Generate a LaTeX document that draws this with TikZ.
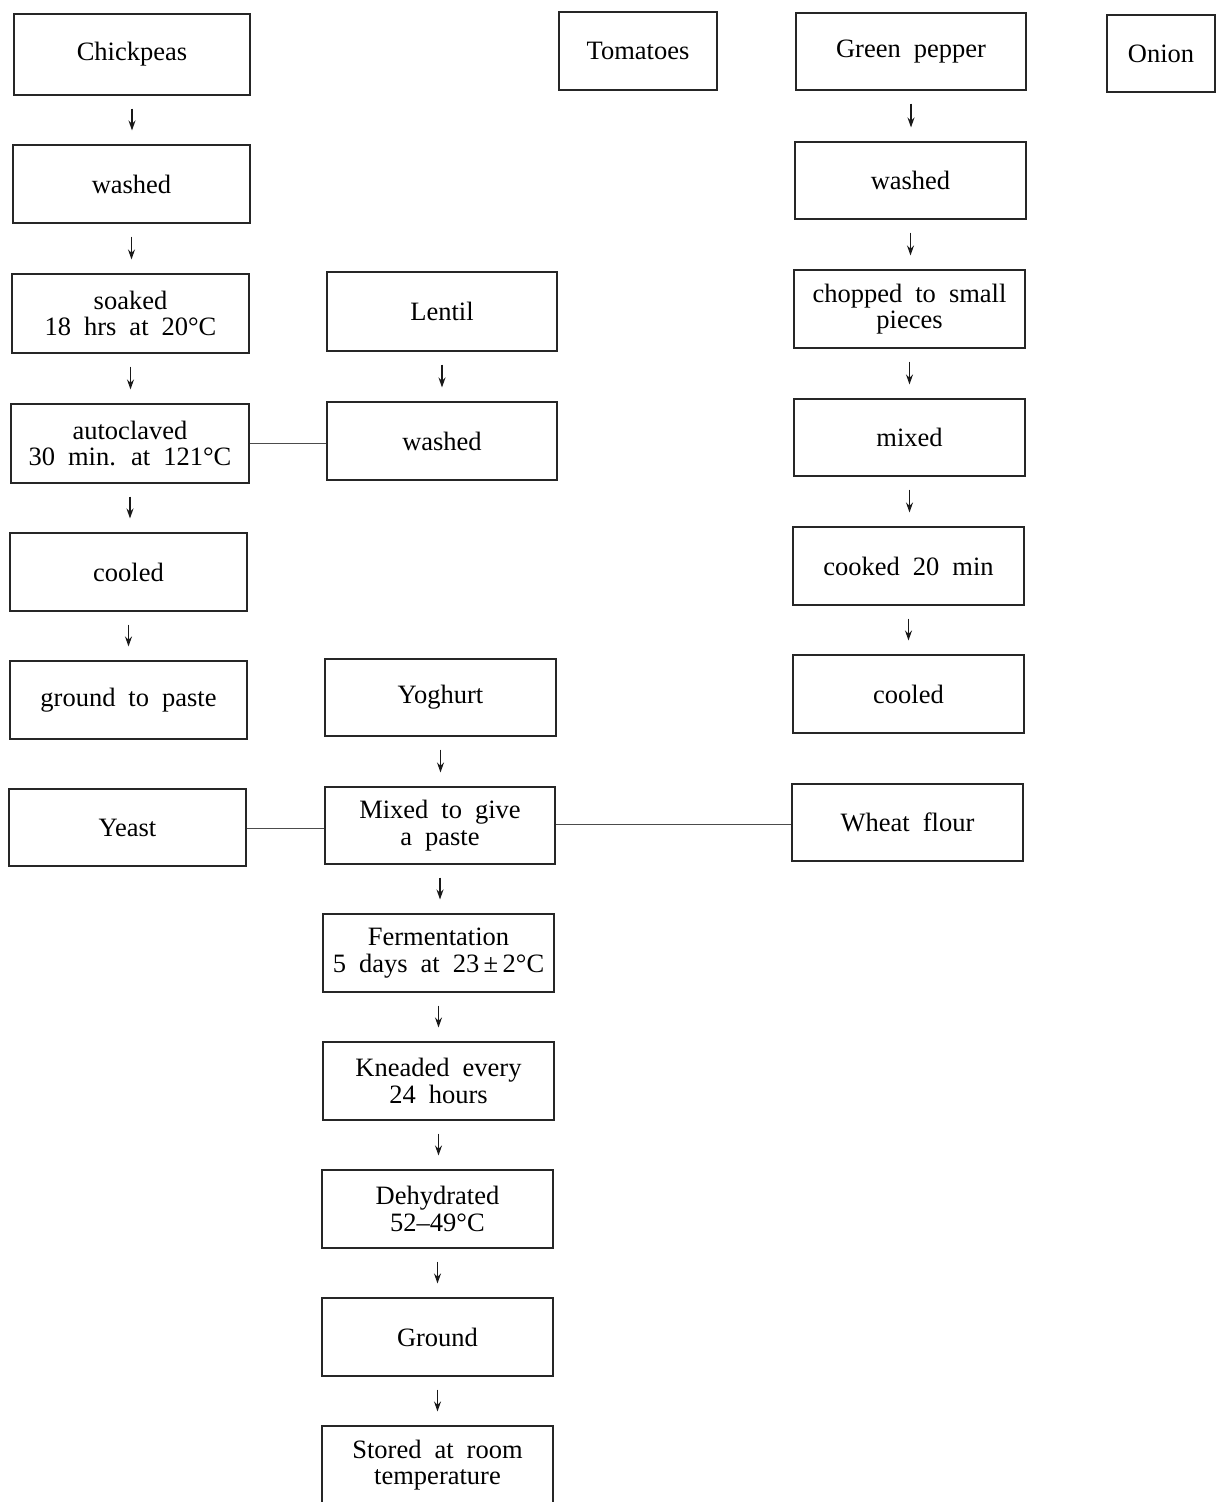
\documentclass[tikz,border=0pt]{standalone}
\usepackage{fontspec}
\setmainfont{Liberation Serif}
\usetikzlibrary{arrows.meta}
% box lettering with wide word spaces
\newcommand\bxfont{\fontsize{26.5}{26.5}\selectfont\spaceskip=13pt plus 2pt minus 1pt\relax}
\begin{document}
\begin{tikzpicture}[x=1pt,y=-1pt,
  box/.style={draw=black!85, line width=1.1pt, align=center, inner sep=0pt, font=\bxfont},
  wbox/.style={box, minimum width=231pt, minimum height=78pt},
  flow/.style={draw=black!90, line width=1.3pt, -{Stealth[length=10pt,width=7pt]},
    shorten <=13pt, shorten >=14pt},
  link/.style={draw=black!70, line width=1pt}]
\useasboundingbox (0,0) rectangle (1225,1502);

% chickpea line
\node[wbox, minimum width=236pt, minimum height=81pt] (chick) at (132,54.5) {Chickpeas};
\node[wbox, minimum width=237pt] (wash1) at (131.5,184) {washed};
\node[wbox, minimum width=237pt, minimum height=79pt] (soak) at (130.5,313.5) {soaked\\18 hrs at 20°C};
\node[wbox, minimum width=238pt, minimum height=79pt] (auto) at (130,443.5) {autoclaved\\30 min. at 121°C};
\node[wbox, minimum width=237pt] (cool1) at (128.5,572) {cooled};
\node[wbox, minimum width=237pt] (grnd1) at (128.5,700) {ground to paste};
\node[wbox, minimum width=237pt, minimum height=77pt] (yeast) at (127.5,827.5) {Yeast};

% lentil and main line
\node[wbox, minimum width=230pt, minimum height=79pt] (lentil) at (442,311.5) {Lentil};
\node[wbox, minimum width=230pt] (wash2) at (442,441) {washed};
\node[wbox, minimum height=77pt] (yog) at (440.5,697.5) {Yoghurt};
\node[wbox, minimum width=230pt, minimum height=77pt] (mix) at (440,825.5) {Mixed to give\\a paste};
\node[wbox] (ferm) at (438.5,953) {Fermentation\\5 days at 23\,±\,2°C};
\node[wbox] (knead) at (438.5,1081) {Kneaded every\\24 hours};
\node[wbox] (dehyd) at (437.5,1209) {Dehydrated\\52–49°C};
\node[wbox] (grnd2) at (437.5,1337) {Ground};
\node[wbox] (store) at (437.5,1465) {Stored at room\\temperature};

% vegetable line
\node[box, minimum width=158pt, minimum height=78pt] (tom) at (638,51) {Tomatoes};
\node[wbox, minimum width=230pt, minimum height=77pt] (gp) at (911,51.5) {Green pepper};
\node[wbox, minimum height=77pt] (wash3) at (910.5,180.5) {washed};
\node[wbox] (chop) at (909.5,309) {chopped to small\\pieces};
\node[wbox, minimum height=77pt] (mixd) at (909.5,437.5) {mixed};
\node[wbox] (cook) at (908.5,566) {cooked 20 min};
\node[wbox] (cool2) at (908.5,694) {cooled};
\node[wbox, minimum height=77pt] (wheat) at (907.5,822.5) {Wheat flour};
\node[box, minimum width=108pt, minimum height=77pt] (onion) at (1161,53.5) {Onion};

% step arrows
\foreach \a/\b in {chick/wash1, wash1/soak, soak/auto, auto/cool1, cool1/grnd1,
                   lentil/wash2, yog/mix, mix/ferm, ferm/knead, knead/dehyd,
                   dehyd/grnd2, grnd2/store,
                   gp/wash3, wash3/chop, chop/mixd, mixd/cook, cook/cool2}
  \draw[flow] (\a.south) -- (\a.south |- \b.north);

% side links
\draw[link] (auto.east) -- (auto.east -| wash2.west);
\draw[link] ([yshift=-0.5pt]yeast.east) -- ([yshift=-0.5pt]yeast.east -| mix.west);
\draw[link] ([yshift=1.5pt]mix.east) -- ([yshift=1.5pt]mix.east -| wheat.west);
\end{tikzpicture}
\end{document}
